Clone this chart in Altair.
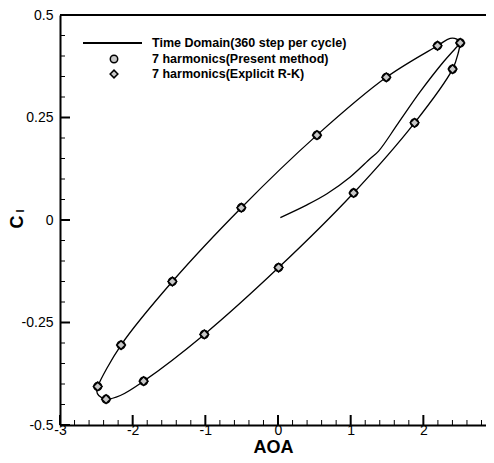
import altair as alt
import pandas as pd

# ---------------- data ----------------
# Time-domain solution: start-up transient followed by the periodic loop
td_aoa = [0.032, 0.399, 0.674, 0.994, 1.27, 1.384, 1.65, 1.957, 2.278, 2.443,
          2.508, 2.46, 2.37, 2.195, 1.49, 0.536, -0.505, -1.454, -2.16, -2.481,
          -2.495, -2.467, -2.366, -2.17, -1.849, -1.014, 0.008, 1.04, 1.879, 2.402,
          2.485, 2.508]
td_cl = [0.006, 0.037, 0.064, 0.105, 0.150, 0.168, 0.235, 0.313, 0.386, 0.419,
         0.432, 0.441, 0.443, 0.425, 0.348, 0.207, 0.030, -0.150, -0.305, -0.406,
         -0.417, -0.428, -0.437, -0.428, -0.393, -0.279, -0.116, 0.066, 0.237, 0.368,
         0.411, 0.432]

# 7 harmonics, present method (15 time instances)
pm_aoa = [0.008, 1.04, 1.879, 2.402, 2.508, 2.195, 1.49, 0.536, -0.505, -1.454,
          -2.16, -2.481, -2.366, -1.849, -1.014]
pm_cl = [-0.116, 0.066, 0.237, 0.368, 0.432, 0.425, 0.348, 0.207, 0.030, -0.150,
         -0.305, -0.406, -0.437, -0.393, -0.279]

# 7 harmonics, explicit R-K (coincides with present method)
rk_aoa = [0.008, 1.04, 1.879, 2.402, 2.508, 2.195, 1.49, 0.536, -0.505, -1.454,
          -2.16, -2.481, -2.366, -1.849, -1.014]
rk_cl = [-0.116, 0.066, 0.237, 0.368, 0.432, 0.425, 0.348, 0.207, 0.030, -0.150,
         -0.305, -0.406, -0.437, -0.393, -0.279]

legend_labels = ["Time Domain(360 step per cycle)",
                 "7 harmonics(Present method)",
                 "7 harmonics(Explicit R-K)"]

x_major = [-3, -2, -1, 0, 1, 2]
x_minor = [-2.8, -2.6, -2.4, -2.2, -1.8, -1.6, -1.4, -1.2, -0.8, -0.6, -0.4, -0.2,
           0.2, 0.4, 0.6, 0.8, 1.2, 1.4, 1.6, 1.8, 2.2, 2.4, 2.6, 2.8]
y_major = [-0.5, -0.25, 0, 0.25, 0.5]
y_minor = [-0.45, -0.4, -0.35, -0.3, -0.2, -0.15, -0.1, -0.05,
           0.05, 0.1, 0.15, 0.2, 0.3, 0.35, 0.4, 0.45]

# ---------------- chart ----------------
# the reference's frame runs past the right edge of the picture (x = 3 is cut off)
W, H = 426, 410
FONT = "Liberation Sans"
GRAY = "#c8c8c8"

xs = alt.Scale(domain=[-3, 2.862], nice=False, zero=False)
ys = alt.Scale(domain=[-0.5, 0.5], nice=False, zero=False)

td = pd.DataFrame({"AOA": td_aoa, "Cl": td_cl, "i": range(len(td_aoa))})
pm = pd.DataFrame({"AOA": pm_aoa, "Cl": pm_cl})
rk = pd.DataFrame({"AOA": rk_aoa, "Cl": rk_cl})

x_axis = alt.Axis(values=x_major, labelExpr="'' + datum.value", ticks=False,
                  grid=False, title="AOA", titleFont=FONT, titleFontSize=18,
                  titleFontWeight="bold", titleColor="black", titlePadding=1,
                  labelFont=FONT, labelFontSize=14, labelColor="black",
                  labelPadding=-2, domainColor="black", domainWidth=2,
                  labelFlush=False, labelOverlap=False)
y_axis = alt.Axis(values=y_major, labelExpr="'' + datum.value", ticks=False,
                  grid=False, title=None, labelFont=FONT, labelFontSize=14,
                  labelColor="black", labelPadding=7, domainColor="black",
                  domainWidth=2, labelFlush=False, labelOverlap=False)

line = alt.Chart(td).mark_line(interpolate="catmull-rom", color="black",
                               strokeWidth=1.3).encode(
    x=alt.X("AOA:Q", scale=xs, axis=x_axis),
    y=alt.Y("Cl:Q", scale=ys, axis=y_axis),
    order="i:Q",
)

circles = alt.Chart(pm).mark_point(shape="circle", filled=True, fill=GRAY,
                                   stroke="black", strokeWidth=1.5, size=60,
                                   opacity=1).encode(
    x=alt.X("AOA:Q", scale=xs), y=alt.Y("Cl:Q", scale=ys))
diamonds = alt.Chart(rk).mark_point(shape="diamond", filled=True, fill=GRAY,
                                    stroke="black", strokeWidth=1.5, size=75,
                                    opacity=1).encode(
    x=alt.X("AOA:Q", scale=xs), y=alt.Y("Cl:Q", scale=ys))

# inward tick marks
xmaj = alt.Chart(pd.DataFrame({"AOA": x_major})).mark_rule(color="black", strokeWidth=2).encode(
    x=alt.X("AOA:Q", scale=xs), y=alt.value(H), y2=alt.value(H - 10))
xmin = alt.Chart(pd.DataFrame({"AOA": x_minor})).mark_rule(color="black", strokeWidth=1).encode(
    x=alt.X("AOA:Q", scale=xs), y=alt.value(H), y2=alt.value(H - 5))
ymaj = alt.Chart(pd.DataFrame({"Cl": y_major})).mark_rule(color="black", strokeWidth=2).encode(
    y=alt.Y("Cl:Q", scale=ys), x=alt.value(0), x2=alt.value(10))
ymin = alt.Chart(pd.DataFrame({"Cl": y_minor})).mark_rule(color="black", strokeWidth=1).encode(
    y=alt.Y("Cl:Q", scale=ys), x=alt.value(0), x2=alt.value(5))

one = alt.Data(values=[{"k": 0}])
top_line = alt.Chart(one).mark_rule(color="black", strokeWidth=2).encode(
    x=alt.value(0), x2=alt.value(W), y=alt.value(0))

# legend (drawn by hand)
leg_line = alt.Chart(one).mark_rule(color="black", strokeWidth=2).encode(
    x=alt.value(23), x2=alt.value(82), y=alt.value(28))
leg_circle = alt.Chart(one).mark_point(shape="circle", filled=True, fill=GRAY,
                                       stroke="black", strokeWidth=1.5, size=55,
                                       opacity=1).encode(
    x=alt.value(54), y=alt.value(44))
leg_diamond = alt.Chart(one).mark_point(shape="diamond", filled=True, fill=GRAY,
                                        stroke="black", strokeWidth=1.5, size=60,
                                        opacity=1).encode(
    x=alt.value(54), y=alt.value(59))
leg_texts = [
    alt.Chart(one).mark_text(align="left", baseline="middle", font=FONT,
                             fontSize=12.5, fontWeight="bold", color="black").encode(
        x=alt.value(92), y=alt.value(yy), text=alt.value(lbl))
    for lbl, yy in zip(legend_labels, [28, 44, 59])
]

# y-axis title C_l
ytitle_c = alt.Chart(one).mark_text(angle=270, align="center", baseline="middle",
                                    font=FONT, fontSize=18, fontWeight="bold",
                                    color="black").encode(
    x=alt.value(-42), y=alt.value(207), text=alt.value("C"))
ytitle_l = alt.Chart(one).mark_text(angle=270, align="center", baseline="middle",
                                    font=FONT, fontSize=11, fontWeight="bold",
                                    color="black").encode(
    x=alt.value(-39), y=alt.value(196), text=alt.value("l"))

chart = alt.layer(
    line, xmin, xmaj, ymin, ymaj, top_line, circles, diamonds,
    leg_line, leg_circle, leg_diamond, *leg_texts, ytitle_c, ytitle_l,
).properties(
    width=W, height=H,
    autosize=alt.AutoSizeParams(type="none"),
    padding={"left": 52, "top": 7, "right": 0, "bottom": 30},
).configure_view(stroke=None).configure(background="white")

chart.save("out.html", embed_options={"renderer": "svg", "actions": False})
